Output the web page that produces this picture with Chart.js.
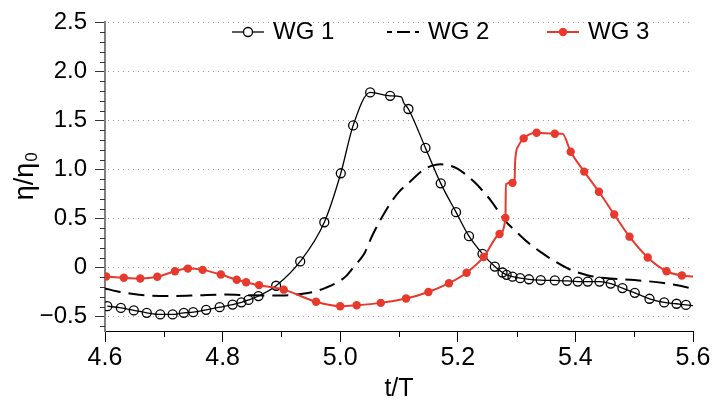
<!DOCTYPE html>
<html><head><meta charset="utf-8">
<script src="https://cdn.jsdelivr.net/npm/chart.js@4.4.1/dist/chart.umd.min.js"></script>
<style>html,body{margin:0;padding:0;background:#fff;}</style>
</head><body>
<canvas id="c" width="728" height="402"></canvas>
<script>
// ---- data ----
const seriesLabels = ['WG 1', 'WG 2', 'WG 3'];

const wg1T = [4.604,4.627,4.649,4.671,4.694,4.715,4.734,4.750,4.772,4.795,4.817,4.832,4.844,4.861,4.891,4.932,4.973,5.001,5.022,5.051,5.085,5.116,5.145,5.171,5.197,5.219,5.242,5.263,5.276,5.283,5.293,5.306,5.321,5.341,5.365,5.386,5.404,5.421,5.441,5.460,5.480,5.501,5.526,5.551,5.572,5.588];
const wg1V = [-0.397,-0.414,-0.44,-0.464,-0.481,-0.481,-0.464,-0.458,-0.434,-0.407,-0.38,-0.357,-0.333,-0.293,-0.188,0.06,0.46,0.96,1.448,1.785,1.751,1.616,1.219,0.857,0.563,0.318,0.138,0.008,-0.053,-0.077,-0.095,-0.111,-0.122,-0.13,-0.134,-0.138,-0.145,-0.145,-0.146,-0.166,-0.212,-0.26,-0.321,-0.358,-0.372,-0.384];
const wg1LineT = [5.104, 5.108, 5.6];
const wg1LineV = [1.741, 1.68, -0.392];

const wg2T = [4.60,4.62,4.645,4.68,4.72,4.76,4.80,4.85,4.90,4.93,4.955,4.975,4.995,5.01,5.025,5.04,5.055,5.07,5.085,5.10,5.12,5.14,5.155,5.17,5.185,5.20,5.215,5.23,5.255,5.28,5.30,5.32,5.34,5.36,5.39,5.42,5.45,5.50,5.55,5.58,5.60];
const wg2V = [-0.215,-0.245,-0.27,-0.29,-0.292,-0.285,-0.278,-0.285,-0.288,-0.275,-0.25,-0.21,-0.155,-0.09,0.02,0.13,0.33,0.5,0.65,0.77,0.88,0.99,1.035,1.052,1.04,1.005,0.94,0.86,0.69,0.48,0.36,0.25,0.16,0.08,-0.02,-0.08,-0.11,-0.13,-0.16,-0.19,-0.22];

const wg3T = [4.602,4.632,4.660,4.689,4.719,4.741,4.766,4.797,4.824,4.840,4.862,4.904,4.959,5.000,5.028,5.069,5.112,5.150,5.185,5.215,5.244,5.271,5.281,5.293,5.312,5.334,5.365,5.392,5.415,5.440,5.466,5.492,5.523,5.555,5.581];
const wg3V = [-0.094,-0.107,-0.114,-0.097,-0.04,-0.013,-0.026,-0.074,-0.127,-0.152,-0.182,-0.228,-0.352,-0.397,-0.387,-0.363,-0.319,-0.252,-0.162,-0.055,0.106,0.34,0.505,0.862,1.316,1.373,1.364,1.179,0.977,0.771,0.539,0.313,0.101,-0.04,-0.084];
const wg3LineT = [5.2818, 5.2965, 5.2975, 5.303, 5.378, 5.6];
const wg3LineV = [0.85, 0.87, 1.08, 1.24, 1.364, -0.094];

const xTicks = [4.6, 4.8, 5.0, 5.2, 5.4, 5.6];
const xMinorTicks = [4.7, 4.9, 5.1, 5.3, 5.5];
const yTicks = [-0.5, 0, 0.5, 1.0, 1.5, 2.0, 2.5];
const yMinorTicks = [-0.6,-0.4,-0.3,-0.2,-0.1,0.1,0.2,0.3,0.4,0.6,0.7,0.8,0.9,1.1,1.2,1.3,1.4,1.6,1.7,1.8,1.9,2.1,2.2,2.3,2.4];
const xTitle = 't/T';
const yTitleMain = 'η/η';
const yTitleSub = '0';

// ---- build ----
const FONT = "'Liberation Sans', Arial, Helvetica, sans-serif";
const RED = '#e8392d';
function build(t, v, et, ev) {
  const pts = t.map((x, i) => ({x: x, y: v[i], m: true}));
  if (et) et.forEach((x, i) => pts.push({x: x, y: ev[i], m: false}));
  pts.sort((a, b) => a.x - b.x);
  return pts;
}
const markerR = r => (c => (c.raw && c.raw.m) ? r : 0);

const axisDeco = {
  id: 'axisDeco',
  beforeDatasetsDraw(chart) {
    const {ctx, chartArea: a, scales: {x, y}} = chart;
    ctx.save();
    ctx.strokeStyle = '#9a9a9a';
    ctx.lineWidth = 1;
    ctx.setLineDash([1, 4]);
    yTicks.forEach(v => {
      const py = Math.round(y.getPixelForValue(v)) + 0.5;
      ctx.beginPath(); ctx.moveTo(a.left + 3, py); ctx.lineTo(a.right, py); ctx.stroke();
    });
    ctx.restore();
  },
  afterDraw(chart) {
    const {ctx, chartArea: a, scales: {x, y}} = chart;
    ctx.save();
    ctx.lineWidth = 1;
    ctx.strokeStyle = '#333';
    yMinorTicks.forEach(v => {
      const py = Math.round(y.getPixelForValue(v)) + 0.5;
      ctx.beginPath(); ctx.moveTo(a.left - 5, py); ctx.lineTo(a.left, py); ctx.stroke();
    });
    ctx.strokeStyle = '#000';
    xMinorTicks.forEach(v => {
      const px = Math.round(x.getPixelForValue(v)) + 0.5;
      ctx.beginPath(); ctx.moveTo(px, a.bottom); ctx.lineTo(px, a.bottom + 6); ctx.stroke();
    });
    // axis titles
    ctx.fillStyle = '#000';
    ctx.font = '25px ' + FONT;
    ctx.textAlign = 'center';
    ctx.textBaseline = 'middle';
    ctx.fillText(xTitle, (a.left + a.right) / 2, 389);
    ctx.save();
    ctx.translate(31, (a.top + a.bottom) / 2);
    ctx.rotate(-Math.PI / 2);
    ctx.font = '27px ' + FONT;
    const w1 = ctx.measureText(yTitleMain).width;
    ctx.font = '17px ' + FONT;
    const w0 = ctx.measureText(yTitleSub).width;
    const start = -(w1 + w0) / 2;
    ctx.textAlign = 'left';
    ctx.textBaseline = 'alphabetic';
    ctx.font = '27px ' + FONT;
    ctx.fillText(yTitleMain, start, 2);
    ctx.font = '17px ' + FONT;
    ctx.fillText(yTitleSub, start + w1 + 1, 6);
    ctx.restore();
    // legend
    const ly = 32;
    const items = [
      {x: 232, ds: chart.data.datasets[0]},
      {x: 387, ds: chart.data.datasets[1]},
      {x: 547, ds: chart.data.datasets[2]}
    ];
    items.forEach((it, i) => {
      const ds = it.ds;
      ctx.save();
      ctx.strokeStyle = ds.borderColor;
      ctx.lineWidth = ds.borderWidth;
      if (i === 1) { ctx.setLineDash([13, 5]); ctx.lineDashOffset = 8; }
      ctx.beginPath(); ctx.moveTo(it.x, ly); ctx.lineTo(it.x + 32, ly); ctx.stroke();
      ctx.setLineDash([]);
      if (i === 0) {
        ctx.lineWidth = 1.3;
        ctx.beginPath(); ctx.arc(it.x + 16, ly, 4.5, 0, Math.PI * 2);
        ctx.fillStyle = '#fff'; ctx.fill(); ctx.stroke();
      } else if (i === 2) {
        ctx.beginPath(); ctx.arc(it.x + 16, ly, 4.2, 0, Math.PI * 2);
        ctx.fillStyle = RED; ctx.fill();
      }
      ctx.fillStyle = '#000';
      ctx.font = '24px ' + FONT;
      ctx.textAlign = 'left';
      ctx.textBaseline = 'middle';
      ctx.fillText(ds.label, it.x + 41, ly);
      ctx.restore();
    });
    ctx.restore();
  }
};

new Chart(document.getElementById('c'), {
  type: 'line',
  data: {
    datasets: [
      {label: seriesLabels[0], data: build(wg1T, wg1V, wg1LineT, wg1LineV),
       borderColor: '#000', borderWidth: 1.3, pointRadius: markerR(4.5),
       pointBackgroundColor: 'rgba(255,255,255,0)', pointBorderColor: '#000', pointBorderWidth: 1.3,
       cubicInterpolationMode: 'monotone', order: 1},
      {label: seriesLabels[1], data: build(wg2T, wg2V),
       borderColor: '#000', borderWidth: 2, borderDash: [16, 8], pointRadius: 0,
       cubicInterpolationMode: 'monotone', order: 2},
      {label: seriesLabels[2], data: build(wg3T, wg3V, wg3LineT, wg3LineV),
       borderColor: RED, borderWidth: 2, pointRadius: markerR(4.2),
       pointBackgroundColor: RED, pointBorderColor: RED, pointBorderWidth: 0,
       cubicInterpolationMode: 'monotone', order: 0}
    ]
  },
  options: {
    responsive: false,
    animation: false,
    events: [],
    layout: {padding: {top: 19, right: 35, left: 0, bottom: 0}},
    plugins: {legend: {display: false}, tooltip: {enabled: false}},
    scales: {
      x: {
        type: 'linear', min: 4.6, max: 5.6,
        afterBuildTicks: s => { s.ticks = xTicks.map(v => ({value: v})); },
        afterFit: s => { s.height = 71; },
        ticks: {autoSkip: false, maxRotation: 0, padding: 1, color: '#000',
                font: {family: FONT, size: 25}, callback: v => Number(v).toFixed(1)},
        grid: {drawOnChartArea: false, drawTicks: true, tickLength: 11, tickColor: '#000', tickWidth: 1},
        border: {display: true, color: '#000', width: 1}
      },
      y: {
        type: 'linear', min: -0.65, max: 2.5,
        afterBuildTicks: s => { s.ticks = yTicks.map(v => ({value: v})); },
        afterFit: s => { s.width = 105; },
        ticks: {autoSkip: false, padding: 8, color: '#000', font: {family: FONT, size: 24},
                callback: v => v === 0 ? '0' : (v < 0 ? '\u2212' + Math.abs(v).toFixed(1) : Number(v).toFixed(1))},
        grid: {drawOnChartArea: false, drawTicks: true, tickLength: 10, tickColor: '#333', tickWidth: 1},
        border: {display: true, color: '#808080', width: 2}
      }
    }
  },
  plugins: [axisDeco]
});
</script>
</body></html>
